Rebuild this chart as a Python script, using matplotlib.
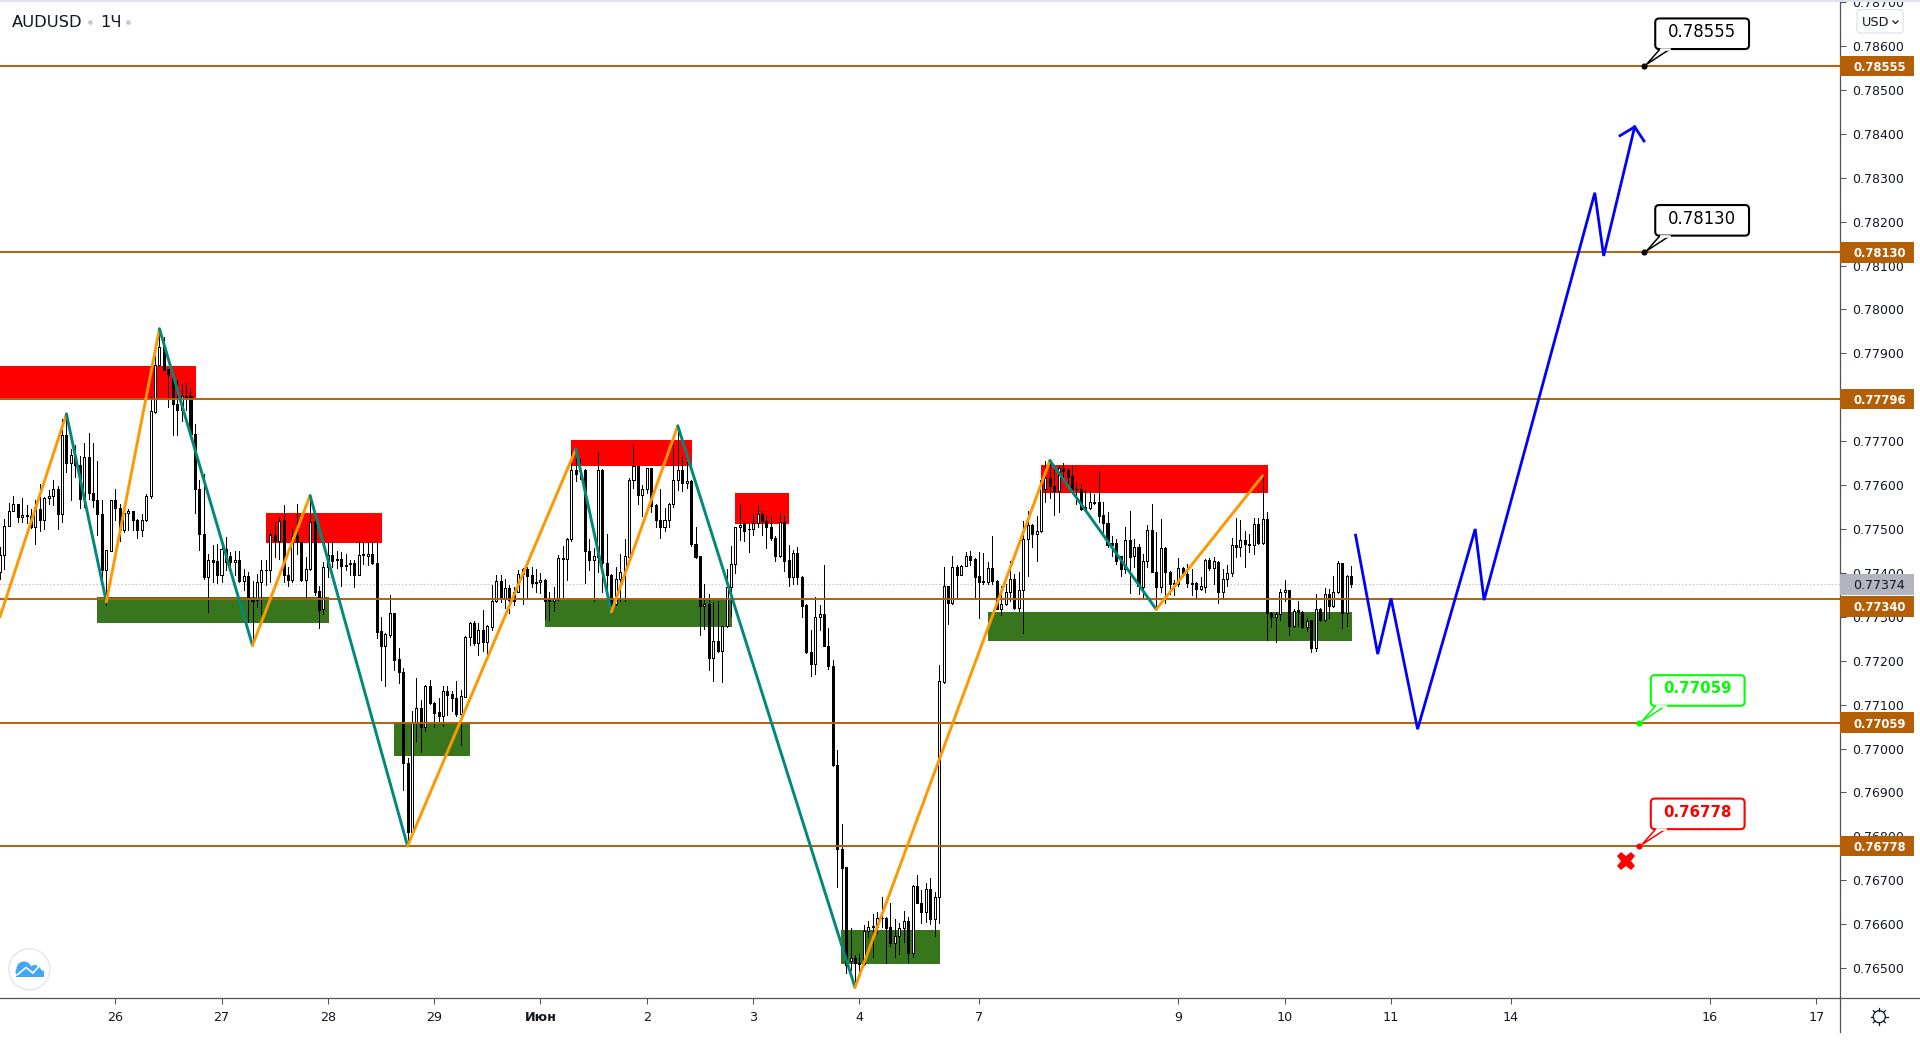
#!/usr/bin/env python
"""AUDUSD hourly candles with hand-drawn zones, zigzag and forecast."""

import numpy as np
import matplotlib
matplotlib.use('Agg')
import matplotlib.pyplot as plt
import matplotlib.patches as mpatches


# Chart data
# ----------

# candles, prices in 1e-5 units, one value per hourly bar
opens = [
    77405, 77443, 77510, 77544, 77559, 77530, 77533, 77533, 77508, 77548,
    77523, 77573, 77578, 77595, 77538, 77717, 77653, 77670, 77648, 77572,
    77667, 77586, 77570, 77538, 77410, 77454, 77568, 77551, 77500, 77539,
    77545, 77524, 77501, 77523, 77578, 77769, 77877, 77920, 77868, 77852,
    77788, 77774, 77807, 77807, 77720, 77595, 77492, 77394, 77433, 77429,
    77399, 77458, 77441, 77428, 77433, 77385, 77397, 77342, 77341, 77382,
    77410, 77410, 77490, 77475, 77523, 77399, 77386, 77489, 77473, 77386,
    77413, 77520, 77361, 77320, 77417, 77443, 77434, 77434, 77422, 77423,
    77426, 77399, 77447, 77442, 77447, 77426, 77271, 77237, 77261, 77311,
    77207, 77178, 76970, 76812, 77061, 77095, 77051, 77146, 77106, 77086,
    77078, 77133, 77127, 77117, 77082, 77121, 77258, 77288, 77244, 77272,
    77246, 77280, 77338, 77385, 77346, 77369, 77359, 77359, 77401, 77411,
    77399, 77382, 77382, 77387, 77342, 77340, 77344, 77437, 77435, 77480,
    77637, 77637, 77637, 77454, 77433, 77440, 77637, 77425, 77399, 77333,
    77389, 77405, 77440, 77615, 77646, 77581, 77594, 77642, 77558, 77524,
    77508, 77524, 77560, 77615, 77637, 77607, 77613, 77469, 77442, 77327,
    77333, 77209, 77247, 77225, 77282, 77371, 77424, 77507, 77515, 77503,
    77502, 77516, 77537, 77522, 77508, 77483, 77441, 77518, 77433, 77393,
    77449, 77393, 77329, 77223, 77196, 77302, 77310, 77236, 77189, 76963,
    76772, 76731, 76517, 76522, 76511, 76509, 76585, 76596, 76594, 76615,
    76615, 76593, 76558, 76574, 76590, 76606, 76535, 76687, 76649, 76628,
    76679, 76612, 76661, 77154, 77373, 77334, 77417, 77399, 77419, 77442,
    77435, 77395, 77385, 77383, 77414, 77384, 77320, 77333, 77359, 77389,
    77323, 77365, 77480, 77512, 77492, 77498, 77594, 77619, 77600, 77589,
    77643, 77637, 77624, 77594, 77594, 77552, 77550, 77562, 77565, 77536,
    77517, 77471, 77471, 77442, 77411, 77478, 77441, 77461, 77370, 77430,
    77501, 77406, 77370, 77460, 77405, 77380, 77378, 77414, 77401, 77380,
    77380, 77367, 77370, 77433, 77414, 77427, 77359, 77389, 77403, 77467,
    77461, 77477, 77469, 77467, 77514, 77471, 77526, 77311, 77302, 77310,
    77359, 77364, 77282, 77319, 77314, 77280, 77295, 77233, 77321, 77295,
    77355, 77327, 77359, 77426, 77311, 77395,
]
highs = [
    77462, 77526, 77562, 77579, 77561, 77574, 77557, 77549, 77570, 77606,
    77576, 77592, 77614, 77602, 77754, 77765, 77686, 77695, 77670, 77699,
    77722, 77699, 77659, 77568, 77456, 77568, 77595, 77561, 77561, 77549,
    77545, 77526, 77538, 77582, 77803, 77898, 77959, 77941, 77868, 77856,
    77843, 77833, 77836, 77824, 77742, 77615, 77629, 77447, 77466, 77468,
    77470, 77485, 77451, 77453, 77453, 77413, 77405, 77385, 77401, 77432,
    77432, 77500, 77519, 77530, 77557, 77417, 77504, 77561, 77473, 77439,
    77579, 77542, 77373, 77428, 77471, 77473, 77454, 77451, 77447, 77433,
    77432, 77475, 77473, 77471, 77473, 77473, 77302, 77267, 77352, 77311,
    77231, 77186, 76981, 77089, 77164, 77114, 77148, 77159, 77110, 77117,
    77145, 77145, 77133, 77157, 77136, 77259, 77292, 77294, 77288, 77318,
    77284, 77375, 77398, 77398, 77388, 77375, 77371, 77410, 77414, 77416,
    77416, 77412, 77402, 77389, 77359, 77371, 77443, 77465, 77483, 77681,
    77685, 77662, 77640, 77480, 77460, 77678, 77640, 77492, 77401, 77416,
    77446, 77480, 77619, 77695, 77646, 77603, 77642, 77643, 77560, 77593,
    77551, 77562, 77695, 77727, 77666, 77655, 77615, 77508, 77442, 77378,
    77354, 77336, 77340, 77282, 77412, 77465, 77508, 77560, 77518, 77515,
    77537, 77558, 77543, 77533, 77533, 77486, 77540, 77533, 77467, 77455,
    77463, 77395, 77333, 77274, 77349, 77331, 77420, 77278, 77201, 76997,
    76828, 76731, 76590, 76530, 76533, 76598, 76607, 76624, 76628, 76662,
    76617, 76647, 76611, 76602, 76630, 76617, 76689, 76712, 76678, 76694,
    76706, 76672, 77191, 77417, 77373, 77442, 77420, 77420, 77450, 77454,
    77437, 77450, 77449, 77427, 77488, 77387, 77374, 77377, 77431, 77401,
    77405, 77522, 77545, 77514, 77533, 77615, 77659, 77659, 77647, 77647,
    77653, 77640, 77647, 77609, 77603, 77592, 77592, 77583, 77636, 77564,
    77541, 77488, 77480, 77442, 77508, 77543, 77480, 77469, 77445, 77511,
    77560, 77496, 77526, 77461, 77407, 77387, 77437, 77416, 77424, 77412,
    77382, 77393, 77435, 77437, 77439, 77430, 77412, 77420, 77483, 77528,
    77524, 77499, 77492, 77528, 77528, 77624, 77541, 77314, 77314, 77367,
    77387, 77365, 77321, 77340, 77316, 77301, 77295, 77354, 77323, 77369,
    77367, 77395, 77431, 77426, 77399, 77419,
]
lows = [
    77390, 77413, 77509, 77544, 77519, 77520, 77517, 77506, 77468, 77498,
    77504, 77561, 77557, 77502, 77519, 77633, 77568, 77621, 77551, 77553,
    77572, 77553, 77489, 77371, 77331, 77453, 77523, 77475, 77496, 77500,
    77500, 77482, 77486, 77521, 77573, 77767, 77876, 77866, 77780, 77716,
    77717, 77750, 77773, 77716, 77539, 77456, 77388, 77314, 77382, 77379,
    77382, 77409, 77409, 77398, 77382, 77363, 77291, 77238, 77326, 77310,
    77375, 77382, 77439, 77435, 77382, 77373, 77382, 77447, 77385, 77345,
    77409, 77352, 77278, 77310, 77394, 77417, 77414, 77373, 77409, 77398,
    77371, 77398, 77424, 77420, 77423, 77255, 77159, 77145, 77258, 77182,
    77152, 76909, 76780, 76810, 77019, 76996, 77044, 77105, 77051, 77066,
    77055, 77080, 77089, 77077, 77010, 77120, 77239, 77239, 77216, 77224,
    77216, 77273, 77337, 77337, 77322, 77312, 77329, 77359, 77333, 77344,
    77371, 77359, 77357, 77299, 77295, 77316, 77342, 77348, 77386, 77475,
    77613, 77617, 77380, 77410, 77340, 77405, 77359, 77355, 77314, 77329,
    77340, 77340, 77439, 77596, 77560, 77533, 77584, 77541, 77508, 77482,
    77498, 77508, 77554, 77592, 77590, 77596, 77465, 77437, 77261, 77276,
    77181, 77157, 77223, 77154, 77280, 77304, 77402, 77479, 77475, 77450,
    77490, 77507, 77490, 77459, 77478, 77431, 77440, 77408, 77374, 77378,
    77377, 77302, 77220, 77168, 77172, 77273, 77236, 77185, 76959, 76685,
    76588, 76488, 76496, 76458, 76488, 76507, 76571, 76526, 76579, 76594,
    76512, 76550, 76526, 76532, 76560, 76514, 76524, 76647, 76603, 76605,
    76600, 76573, 76603, 77152, 77286, 77333, 77348, 77399, 77420, 77420,
    77348, 77300, 77378, 77377, 77378, 77321, 77308, 77331, 77340, 77321,
    77316, 77266, 77397, 77461, 77431, 77496, 77564, 77574, 77536, 77541,
    77617, 77602, 77587, 77560, 77547, 77546, 77549, 77560, 77518, 77496,
    77461, 77442, 77424, 77395, 77402, 77357, 77417, 77354, 77349, 77416,
    77405, 77321, 77359, 77334, 77355, 77352, 77374, 77397, 77372, 77352,
    77345, 77364, 77359, 77410, 77378, 77334, 77344, 77374, 77397, 77439,
    77442, 77417, 77450, 77446, 77469, 77469, 77251, 77280, 77245, 77295,
    77339, 77261, 77280, 77283, 77278, 77270, 77223, 77225, 77293, 77293,
    77301, 77325, 77357, 77278, 77283, 77370,
]
closes = [
    77443, 77510, 77544, 77559, 77530, 77536, 77536, 77508, 77553, 77523,
    77574, 77579, 77595, 77538, 77717, 77653, 77672, 77648, 77572, 77667,
    77585, 77570, 77538, 77409, 77456, 77568, 77551, 77500, 77540, 77545,
    77524, 77501, 77524, 77579, 77771, 77877, 77918, 77866, 77855, 77788,
    77774, 77805, 77803, 77720, 77595, 77492, 77394, 77433, 77428, 77399,
    77458, 77428, 77428, 77433, 77385, 77397, 77345, 77340, 77382, 77410,
    77409, 77490, 77475, 77522, 77398, 77386, 77486, 77473, 77386, 77413,
    77520, 77360, 77318, 77417, 77443, 77430, 77432, 77419, 77419, 77426,
    77399, 77443, 77443, 77447, 77426, 77269, 77237, 77264, 77311, 77205,
    77178, 76970, 76812, 77063, 77095, 77051, 77146, 77106, 77085, 77078,
    77133, 77126, 77117, 77082, 77122, 77258, 77288, 77244, 77272, 77246,
    77281, 77338, 77385, 77346, 77369, 77341, 77340, 77401, 77411, 77397,
    77380, 77380, 77387, 77340, 77340, 77346, 77437, 77434, 77480, 77637,
    77628, 77636, 77452, 77433, 77442, 77637, 77425, 77399, 77333, 77389,
    77405, 77442, 77615, 77646, 77581, 77594, 77642, 77556, 77524, 77508,
    77524, 77560, 77615, 77637, 77607, 77613, 77468, 77440, 77327, 77333,
    77209, 77247, 77224, 77282, 77372, 77424, 77507, 77513, 77499, 77502,
    77516, 77537, 77521, 77507, 77482, 77441, 77518, 77431, 77393, 77449,
    77393, 77327, 77223, 77196, 77302, 77310, 77236, 77191, 76962, 76772,
    76728, 76507, 76522, 76511, 76508, 76585, 76594, 76594, 76615, 76614,
    76592, 76558, 76574, 76590, 76606, 76535, 76687, 76649, 76628, 76679,
    76612, 76661, 77154, 77373, 77334, 77417, 77399, 77419, 77442, 77433,
    77393, 77382, 77382, 77414, 77384, 77321, 77333, 77360, 77389, 77323,
    77365, 77480, 77512, 77492, 77499, 77615, 77619, 77600, 77589, 77643,
    77636, 77622, 77594, 77593, 77549, 77549, 77565, 77564, 77533, 77516,
    77467, 77467, 77430, 77411, 77478, 77440, 77461, 77374, 77431, 77501,
    77405, 77370, 77460, 77405, 77377, 77378, 77414, 77399, 77380, 77378,
    77367, 77373, 77433, 77414, 77430, 77359, 77389, 77403, 77467, 77461,
    77477, 77469, 77467, 77514, 77471, 77526, 77311, 77302, 77310, 77359,
    77364, 77282, 77317, 77314, 77280, 77293, 77233, 77321, 77295, 77355,
    77327, 77359, 77426, 77311, 77395, 77377,
]

# horizontal levels and the price tags on the axis
levels = [78555, 78130, 77796, 77340, 77059, 76778]
tag_centres = [78555, 78130, 77796, 77324, 77059, 76778]
last_price = 77374

# zones as first bar, last bar, low, high
red_bars0 = [0.0, 60.0, 128.9, 165.9, 235.0]
red_bars1 = [44.2, 86.2, 156.2, 178.1, 286.2]
red_lows = [77796, 77468, 77643, 77512, 77581]
red_highs = [77872, 77536, 77703, 77581, 77646]
green_bars0 = [21.9, 88.9, 123.0, 189.8, 223.0]
green_bars1 = [74.3, 106.1, 165.2, 212.2, 305.2]
green_lows = [77285, 76984, 77276, 76509, 77244]
green_highs = [77345, 77060, 77340, 76587, 77310]

# zigzag turning points
zig_bars = [0, 15, 24, 36, 57, 70, 92, 130, 138, 153, 193, 237, 261, 285]
zig_prices = [77300, 77762, 77334, 77956, 77235, 77576, 76778, 77682,
              77311, 77735, 76456, 77656, 77317, 77621]

# forecast path and arrow head
path_bars = [306, 311, 314, 320, 333, 335, 360, 362, 369]
path_prices = [77486, 77215, 77342, 77044, 77500, 77338, 78266, 78122, 78416]
head_bars = [365.7, 369, 371.1]
head_prices = [78396, 78416, 78384]

# callouts
call_bars = [371, 371, 370, 370]
call_prices = [78555, 78130, 77059, 76778]
call_colors = ['black', 'black', '#00ff00', '#ff0000']
call_texts = ['0.78555', '0.78130', '0.77059', '0.76778']

# axes ticks, the 0.77800 label sits fully under its level tag
time_ticks = [26, 50, 74, 98, 122, 146, 170, 194, 221, 266, 290, 314, 341, 386, 410]
time_labels = ['26', '27', '28', '29', 'Июн', '2', '3', '4', '7', '9', '10',
               '11', '14', '16', '17']
price_ticks = [p for p in range(76500, 78701, 100) if p != 77800]

# colors
LEVEL = '#b45f06'
AXIS = '#50535e'
TEXT = '#131722'


# Figure creation
# ---------------

W, H = 1920, 1042
BAR_PX = 4.43
PRICE_PX = 0.4390  # pixels per 1e-5
AX_RIGHT, AX_BOTTOM = 1840, 998

fig = plt.figure(figsize=(W/100, H/100), dpi=100, facecolor='white')
ax = fig.add_axes([0, 1-AX_BOTTOM/H, AX_RIGHT/W, AX_BOTTOM/H])
ax.set_xlim(0, AX_RIGHT/BAR_PX)
ax.set_ylim(78500-(AX_BOTTOM-90)/PRICE_PX, 78500+90/PRICE_PX)
ax.spines['top'].set_visible(False)
ax.spines['left'].set_visible(False)
for side in ('right', 'bottom'):
    ax.spines[side].set_color(AXIS)
    ax.spines[side].set_linewidth(0.9)

# overlay in pixel coordinates for the interface furniture
ui = fig.add_axes([0, 0, 1, 1], facecolor='none')
ui.set_xlim(0, W)
ui.set_ylim(H, 0)
ui.axis('off')


# Chart elements
# --------------

def draw_zones(bars0, bars1, lows, highs, color):
    """Draw filled price zones below the candles."""
    for x0, x1, y0, y1 in zip(bars0, bars1, lows, highs):
        ax.add_patch(mpatches.Rectangle((x0, y0), x1-x0, y1-y0, fc=color,
                                        ec='none', zorder=1))


def draw_candles(opens, highs, lows, closes):
    """Draw hollow up candles and black down candles."""
    o, h, l, c = (np.array(a, dtype=float) for a in (opens, highs, lows, closes))

    # readings ran 3 points above the level lines, except the June 4 stretch
    bias = np.full(len(o), 3.0)
    bias[188:213] = 0.0
    o, h, l, c = o-bias, h-bias, l-bias, c-bias

    x = np.arange(len(o))
    up = c >= o
    ax.vlines(x, l, h, color='black', lw=0.72, zorder=3, antialiased=False)
    ax.bar(x, np.abs(c-o), bottom=np.minimum(o, c), width=0.46, linewidth=0.72,
           color=np.where(up, 'white', 'black'), edgecolor='black', zorder=3.1,
           antialiased=False)


def draw_callout(bar, price, text, color):
    """Draw price callout with a dot at its anchor."""

    # anchor in overlay pixels
    px, py = ax.transData.transform((bar, price))
    x, y = px, H-py
    bold = color != 'black'

    # box, then tail with its wide end opened into the box
    ui.add_patch(mpatches.FancyBboxPatch((x+11.7, y-47.4), 93.8, 30.6,
                                         boxstyle='round,pad=0,rounding_size=4',
                                         fc='white', ec=color, lw=1.5, zorder=6))
    ui.add_patch(mpatches.Polygon([(x+16.5, y-16.8), (x+3, y-1.5), (x+26.5, y-16.8)],
                                  closed=False, fc='white', ec=color, lw=1.1,
                                  zorder=6.1))
    ui.plot([x+17.5, x+25.5], [y-16.8, y-16.8], color='white', lw=1.8, zorder=6.2)
    ui.plot([x], [y], marker='o', ms=3.4, color=color, zorder=6.3)
    ui.text(x+58.6, y-33.8, text, ha='center', va='center', color=color,
            fontsize=10.8 if bold else 11.9, zorder=7,
            fontweight='bold' if bold else 'normal')


draw_zones(red_bars0, red_bars1, red_lows, red_highs, '#ff0000')
draw_zones(green_bars0, green_bars1, green_lows, green_highs, '#38761d')

# last price dotted line
ax.axhline(last_price, color='#b2b5be', lw=0.8, ls=(0, (1, 2.2)), zorder=1.5)

draw_candles(opens, highs, lows, closes)

# horizontal levels
for level in levels:
    ax.axhline(level, color=LEVEL, lw=1.4, zorder=3.5)

# zigzag, legs alternate up and down
for i in range(len(zig_bars)-1):
    color = '#ff9800' if i % 2 == 0 else '#00897b'
    ax.plot(zig_bars[i:i+2], zig_prices[i:i+2], color=color, lw=2.1, zorder=4,
            solid_capstyle='round')

# forecast path
ax.plot(path_bars, path_prices, color='#0000ff', lw=2.0, zorder=5,
        solid_joinstyle='miter')
ax.plot(head_bars, head_prices, color='#0000ff', lw=2.0, zorder=5,
        solid_joinstyle='miter')

for bar, price, text, color in zip(call_bars, call_prices, call_texts, call_colors):
    draw_callout(bar, price, text, color)

# stop mark
ax.plot([367], [76744], marker='X', ms=13, mew=0, color='#ff0000', zorder=6)


# Axes and price tags
# -------------------

ax.yaxis.tick_right()
ax.set_yticks(price_ticks)
ax.set_yticklabels(['{:.5f}'.format(p/1e5) for p in price_ticks])
ax.tick_params(axis='y', length=4, width=0.75, color=AXIS, labelcolor=TEXT,
               labelsize=9, pad=5)
ax.set_xticks(time_ticks)
ax.set_xticklabels(time_labels)
ax.tick_params(axis='x', length=4, width=0.75, color=AXIS, labelcolor=TEXT,
               labelsize=9.2, pad=5.5)
ax.get_xticklabels()[4].set_fontweight('bold')

# price tags on the axis
trans = ax.get_yaxis_transform()
tag_h = 20.7 / PRICE_PX
tag_dx = 13 / AX_RIGHT
for centre, level in zip(tag_centres, levels):
    ax.add_patch(mpatches.Rectangle((1, centre-tag_h/2), 74/AX_RIGHT, tag_h,
                                    transform=trans, clip_on=False, fc=LEVEL,
                                    ec='none', zorder=10))
    ax.text(1+tag_dx, centre, '{:.5f}'.format(level/1e5), transform=trans,
            color='white', fontsize=8.4, fontweight='bold', va='center_baseline',
            ha='left', zorder=11, clip_on=False)
ax.add_patch(mpatches.Rectangle((1, last_price-tag_h/2), 74/AX_RIGHT, tag_h,
                                transform=trans, clip_on=False, fc='#b2b5be',
                                ec='none', zorder=9))
ax.text(1+tag_dx, last_price, '{:.5f}'.format(last_price/1e5),
        transform=trans, color=TEXT, fontsize=9, va='center_baseline', ha='left',
        zorder=9.5, clip_on=False)


# Interface furniture
# -------------------

# frame line extensions and header band
ui.plot([AX_RIGHT, W], [AX_BOTTOM, AX_BOTTOM], color=AXIS, lw=0.9)
ui.plot([AX_RIGHT, AX_RIGHT], [AX_BOTTOM, 1032], color=AXIS, lw=0.9)
ui.add_patch(mpatches.Rectangle((0, 0), W, 2, fc='#e0e3eb', ec='none'))

# symbol title
ui.text(12, 22.5, 'AUDUSD', fontsize=11.8, color=TEXT, va='center', ha='left')
ui.text(100, 22.5, '1Ч', fontsize=11.8, color=TEXT, va='center', ha='left')
for x in (90, 128):
    ui.plot([x], [22], marker='o', ms=2.4, color='#c6c8d0')

# currency button
ui.add_patch(mpatches.FancyBboxPatch((1857, 9.5), 46, 23.5,
                                     boxstyle='round,pad=0,rounding_size=3.5',
                                     fc='white', ec='#e0e3eb', lw=0.9, zorder=12))
ui.text(1876, 22, 'USD', fontsize=9.2, color=TEXT, va='center', ha='center', zorder=13)
ui.plot([1893, 1895.5, 1898], [21, 23.5, 21], color=TEXT, lw=0.9, zorder=13)

# logo badge
ui.add_patch(mpatches.Circle((29.3, 969.3), 20.5, fc='white', ec='#e6e8ee', lw=1.1))
for cx, cy, r in [(24, 969, 7.5), (35, 971, 6), (20, 972, 4.5), (39, 973, 4)]:
    ui.add_patch(mpatches.Circle((cx, cy), r, fc='#42a5f5', ec='none'))
ui.add_patch(mpatches.Rectangle((16, 971), 27.5, 6, fc='#42a5f5', ec='none'))
ui.plot([17, 26, 33, 40], [975, 967.5, 973, 965], color='white', lw=1.2)

# settings gear
ui.add_patch(mpatches.Circle((1879.3, 1016.7), 6, fc='white', ec=TEXT, lw=0.9))
for angle in np.arange(0, 360, 45):
    dx, dy = np.cos(np.radians(angle)), np.sin(np.radians(angle))
    ui.plot([1879.3+6*dx, 1879.3+8.5*dx], [1016.7+6*dy, 1016.7+8.5*dy],
            color=TEXT, lw=0.9)

fig.savefig('out.png', dpi=100)
